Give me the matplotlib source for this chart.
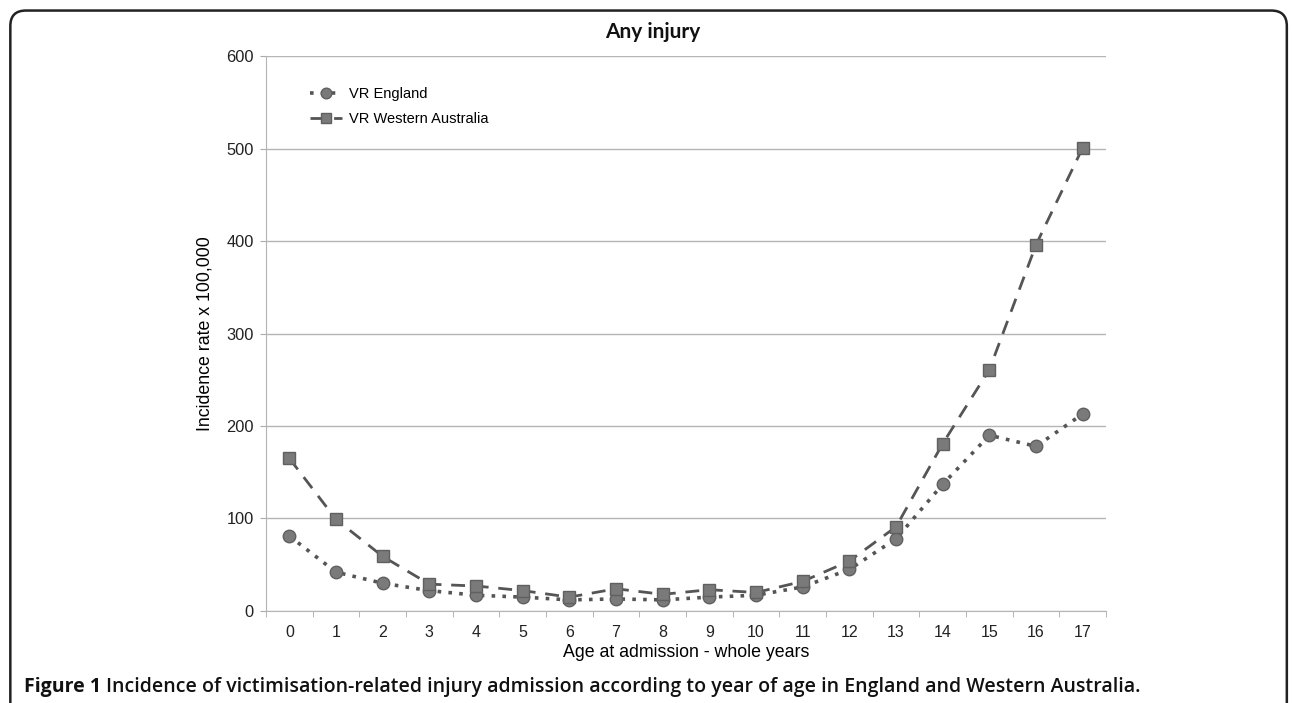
import numpy as np
import matplotlib
matplotlib.use('Agg')
import matplotlib.pyplot as plt
from matplotlib.patches import FancyBboxPatch
from matplotlib import rcParams

rcParams['font.family'] = ['Liberation Sans', 'DejaVu Sans']

# data
ages = list(range(18))
england = [81, 42, 30, 22, 17, 15, 12, 13, 12, 15, 17, 26, 45, 78, 137, 190, 178, 213]
western_australia = [165, 99, 59, 29, 27, 22, 15, 24, 18, 23, 20, 32, 54, 91, 181, 261, 396, 501]

fig = plt.figure(figsize=(12.92, 7.03), dpi=100)
ax = fig.add_axes([0.2059, 0.1309, 0.6502, 0.7894])

x = np.arange(len(ages))
ax.plot(x, england, linestyle=(0, (1, 2)), linewidth=2.6, color='#555555',
        marker='o', markersize=9, markerfacecolor='#7a7a7a', markeredgecolor='#606060',
        label='VR England')
ax.plot(x, western_australia, linestyle=(0, (5, 3.5)), linewidth=2.0, color='#555555',
        marker='s', markersize=9, markerfacecolor='#7a7a7a', markeredgecolor='#606060',
        label='VR Western Australia')

ax.set_xlim(-0.5, len(ages) - 0.5)
ax.set_ylim(0, 600)
ax.set_yticks(range(0, 601, 100))
ax.set_xticks(x)
ax.set_xticklabels([str(a) for a in ages])
ax.set_xticks(np.arange(-0.5, len(ages), 1), minor=True)
ax.tick_params(axis='x', which='major', length=0, labelsize=11.5, pad=10, colors='#222222')
ax.tick_params(axis='x', which='minor', length=4.5, color='#aaaaaa')
ax.tick_params(axis='y', length=4, color='#aaaaaa', labelsize=11.8, pad=5, labelcolor='#222222')

ax.yaxis.grid(True, color='#b5b5b5', linewidth=1)
ax.set_axisbelow(True)
for s in ['top', 'right']:
    ax.spines[s].set_visible(False)
ax.spines['left'].set_color('#b5b5b5')
ax.spines['bottom'].set_color('#b5b5b5')

ax.set_ylabel('Incidence rate x 100,000', fontsize=12.8, labelpad=9)
ax.set_xlabel('Age at admission - whole years', fontsize=12.8, labelpad=3)

# chart title (centred on chart area, a bit left of the plot centre)
fig.text(653 / 1292, 1 - 32 / 703, 'Any injury', fontsize=15, fontweight='bold',
         family=['Lato', 'Liberation Sans'], ha='center', va='center', color='#111111')

ax.legend(loc='upper left', bbox_to_anchor=(0.037, 0.968), frameon=False, fontsize=10.5,
          handlelength=2.2, handletextpad=0.45, labelspacing=0.75, markerscale=0.85)

# rounded frame around the figure
box = FancyBboxPatch((0.008, -0.05), 0.988, 1.035, boxstyle='round,pad=0,rounding_size=0.012',
                     transform=fig.transFigure, facecolor='none', edgecolor='#222222',
                     linewidth=1.8, mutation_aspect=1292 / 703)
fig.patches.append(box)

# caption: bold lead + semibold text
cap_font = ['Open Sans', 'Liberation Sans', 'DejaVu Sans']
lead = fig.text(24 / 1292, 0.0156, 'Figure 1 ', fontsize=14, fontweight='bold', family=cap_font,
                va='baseline', color='#111111')
fig.add_artist(plt.Annotation(
    'Incidence of victimisation-related injury admission according to year of age in England and Western Australia.',
    xy=(1, 0), xycoords=lead, xytext=(0, 0), textcoords='offset points',
    fontsize=14, fontweight='semibold', family=cap_font, va='bottom', ha='left', color='#111111'))

fig.savefig('out.png', dpi=100, facecolor='white')
